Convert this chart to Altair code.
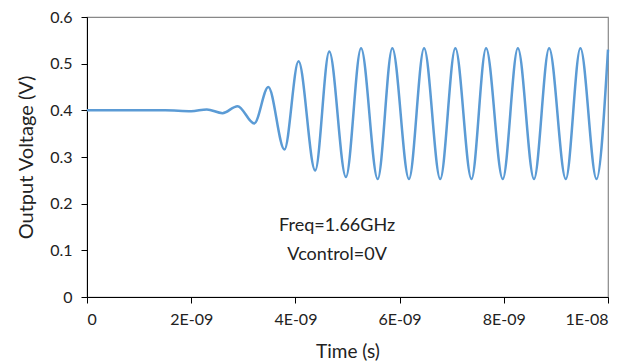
import altair as alt
import pandas as pd

# time in nanoseconds (axis labels show seconds), voltage in volts
time_ns = [0.0, 1.5, 2.0, 2.3, 2.6, 2.89, 3.21, 3.48, 3.79, 4.06, 4.38, 4.65, 4.97,
           5.26, 5.58, 5.86, 6.18, 6.47, 6.78, 7.07, 7.38, 7.66, 7.98, 8.27, 8.58,
           8.87, 9.19, 9.47, 9.78, 10.0]
voltage = [0.400, 0.400, 0.398, 0.402, 0.394, 0.409, 0.372, 0.450, 0.316, 0.505, 0.271,
           0.526, 0.257, 0.533, 0.253, 0.533, 0.253, 0.533, 0.253, 0.533, 0.253, 0.533,
           0.253, 0.533, 0.253, 0.533, 0.253, 0.533, 0.253, 0.530]

notes = ["Freq=1.66GHz", "Vcontrol=0V"]
note_t = [4.8, 4.8]
note_v = [0.153, 0.090]

x_ticks = [0, 2, 4, 6, 8, 10]
y_ticks = [0, 0.1, 0.2, 0.3, 0.4, 0.5, 0.6]

df = pd.DataFrame({"t": time_ns, "v": voltage})
df_notes = pd.DataFrame({"t": note_t, "v": note_v, "label": notes})

FONT = "Lato"

x_enc = alt.X("t:Q", scale=alt.Scale(domain=[0, 10], nice=False),
              axis=alt.Axis(title="Time (s)", values=x_ticks,
                            labelExpr="datum.value == 0 ? '0' : datum.value == 10 ? '1E-08' : datum.value + 'E-09'",
                            grid=False, domainColor="black", tickColor="black",
                            tickSize=6, labelPadding=8, labelFontSize=16,
                            titleFontSize=19, titleFontWeight="normal",
                            titlePadding=15, labelColor="#222222", titleColor="#222222",
                            labelFont=FONT, titleFont=FONT))
y_enc = alt.Y("v:Q", scale=alt.Scale(domain=[0, 0.6], nice=False),
              axis=alt.Axis(title="Output Voltage (V)", values=y_ticks,
                            labelExpr="datum.value == 0 ? '0' : format(datum.value, '.1f')",
                            grid=False, domainColor="black", tickColor="black",
                            tickSize=6, labelPadding=9, labelFontSize=16,
                            titleFontSize=20, titleFontWeight="normal",
                            titlePadding=13, labelColor="#222222", titleColor="#222222",
                            labelFont=FONT, titleFont=FONT))

line = alt.Chart(df).mark_line(color="#5B9BD5", strokeWidth=2.5, interpolate="monotone").encode(
    x=x_enc, y=y_enc)

text = alt.Chart(df_notes).mark_text(fontSize=18, font=FONT, color="#222222",
                                     align="center", baseline="middle").encode(
    x="t:Q", y="v:Q", text="label:N")

chart = (line + text).properties(
    width=521, height=280,
    autosize=alt.AutoSizeParams(type="none"),
    padding={"left": 79, "top": 9, "right": 28, "bottom": 66},
    background="white",
).configure_view(stroke="#888888", strokeWidth=1.2)

chart.save("out.html", embed_options={"renderer": "svg", "actions": False})
